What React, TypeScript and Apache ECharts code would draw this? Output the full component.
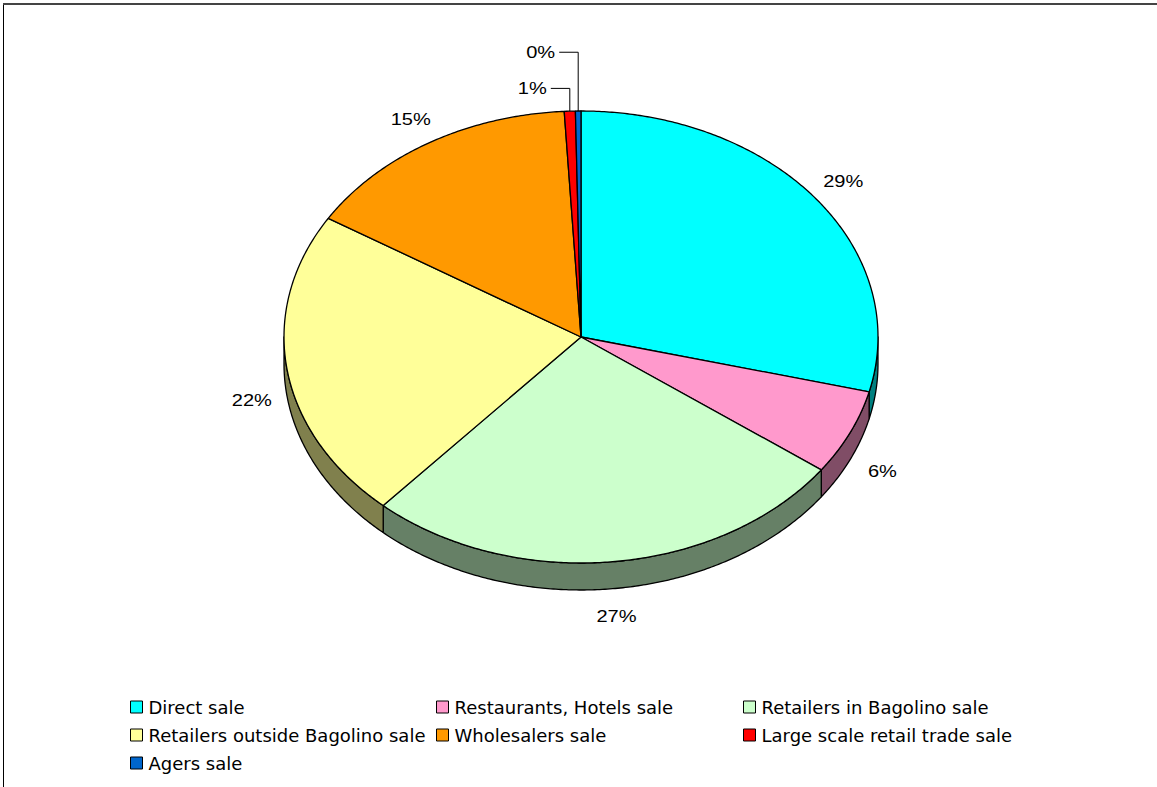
import React, { useEffect, useRef } from 'react';
import * as echarts from 'echarts';

const categories = [
  'Direct sale',
  'Restaurants, Hotels sale',
  'Retailers in Bagolino sale',
  'Retailers outside Bagolino sale',
  'Wholesalers sale',
  'Large scale retail trade sale',
  'Agers sale',
];
const shares = [28.9, 6.1, 26.6, 22.2, 15.3, 0.6, 0.3];
const colors = ['#00FFFF', '#FF99CC', '#CCFFCC', '#FFFF99', '#FF9900', '#FF0000', '#0066CC'];

const CX = 581;
const CY = 337;
const RX = 297;
const RY = 226;
const DEPTH = 27;
const FONT = '17px "Liberation Sans", Arial, sans-serif';
const STRETCH = 1.18;

function darken(hex: string): string {
  const n = parseInt(hex.slice(1), 16);
  const r = Math.round(((n >> 16) & 255) * 0.5);
  const g = Math.round(((n >> 8) & 255) * 0.5);
  const b = Math.round((n & 255) * 0.5);
  return `rgb(${r},${g},${b})`;
}

const pt = (t: number, dz = 0): number[] => [CX + RX * Math.sin(t), CY - RY * Math.cos(t) + dz];
const arc = (t0: number, t1: number, dz: number): number[][] => {
  const n = Math.max(2, Math.ceil((t1 - t0) / (Math.PI / 360)));
  const out: number[][] = [];
  for (let i = 0; i <= n; i++) out.push(pt(t0 + ((t1 - t0) * i) / n, dz));
  return out;
};

function makeRender(idx: number) {
  const smallRank = shares.slice(0, idx).filter((v) => v < 1.5).length;
  return (_params: any, api: any) => {
    const a = api.value(0) * 2 * Math.PI;
    const b = api.value(1) * 2 * Math.PI;
    const v = api.value(2);
    const children: any[] = [];
    const s0 = Math.max(a, Math.PI / 2);
    const s1 = Math.min(b, 1.5 * Math.PI);
    if (s1 > s0) {
      const pts = [...arc(s0, s1, 0), ...arc(s0, s1, DEPTH).reverse()];
      children.push({
        type: 'polygon',
        shape: { points: pts },
        style: { fill: darken(colors[idx]), stroke: '#000', lineWidth: 1.3, lineJoin: 'round' },
      });
    }
    children.push({
      type: 'polygon',
      shape: { points: [[CX, CY], ...arc(a, b, 0)] },
      style: { fill: colors[idx], stroke: '#000', lineWidth: 1.3, lineJoin: 'round' },
    });
    const m = (a + b) / 2;
    const txt = `${Math.round(v)}%`;
    if (v < 1.5) {
      const k = 1.1 + 0.16 * smallRank;
      const [x0, yTop] = pt(m, 0);
      const yL = CY - k * RY;
      children.push({
        type: 'polyline',
        shape: { points: [[x0, yTop], [x0, yL], [x0 - 19, yL]] },
        style: { stroke: '#000', lineWidth: 1, fill: 'none' },
      });
      children.push({
        type: 'text',
        x: x0 - 23,
        y: yL,
        scaleX: STRETCH,
        style: { text: txt, font: FONT, fill: '#000', align: 'right', verticalAlign: 'middle' },
      });
    } else {
      const k = 1.12;
      const x = CX + k * RX * Math.sin(m);
      const y = CY - k * RY * Math.cos(m) + (Math.cos(m) < 0 ? DEPTH : 0);
      children.push({
        type: 'text',
        x,
        y,
        scaleX: STRETCH,
        style: { text: txt, font: FONT, fill: '#000', align: 'center', verticalAlign: 'middle' },
      });
    }
    return { type: 'group', children };
  };
}

export default function App() {
  const ref = useRef<HTMLDivElement>(null);
  useEffect(() => {
    document.body.style.margin = '0';
    if (!ref.current) return;
    const chart = echarts.init(ref.current, null, { renderer: 'svg' });
    const total = shares.reduce((s, v) => s + v, 0);
    let acc = 0;
    const series = categories.map((name, i) => {
      const start = acc / total;
      acc += shares[i];
      const end = acc / total;
      return {
        type: 'custom',
        name,
        coordinateSystem: 'none',
        itemStyle: { color: colors[i] },
        data: [[start, end, shares[i]]],
        renderItem: makeRender(i),
        silent: true,
      };
    });
    const colLeft = [130, 436, 743];
    const legends = [0, 1, 2].map((c) => ({
      orient: 'vertical',
      left: colLeft[c],
      top: 698,
      padding: 0,
      icon: 'rect',
      itemWidth: 12,
      itemHeight: 12,
      itemGap: 10,
      selectedMode: false,
      itemStyle: { borderColor: '#000', borderWidth: 1 },
      textStyle: {
        fontSize: 18,
        fontFamily: '"DejaVu Sans", sans-serif',
        color: '#000',
        lineHeight: 18,
        padding: [0, 0, 0, 1],
      },
      data: categories.filter((_, i) => i % 3 === c),
    }));
    chart.setOption({
      animation: false,
      backgroundColor: '#fff',
      legend: legends,
      series,
      graphic: [
        {
          type: 'rect',
          shape: { x: 3.5, y: 4.5, width: 1160, height: 800 },
          style: { fill: 'none', stroke: '#000', lineWidth: 1 },
          silent: true,
        },
        {
          type: 'line',
          shape: { x1: 3, y1: 4, x2: 1157, y2: 4 },
          style: { stroke: '#444', lineWidth: 2 },
          silent: true,
        },
      ],
    });
    return () => chart.dispose();
  }, []);
  return <div ref={ref} style={{ width: 1157, height: 787 }} />;
}
